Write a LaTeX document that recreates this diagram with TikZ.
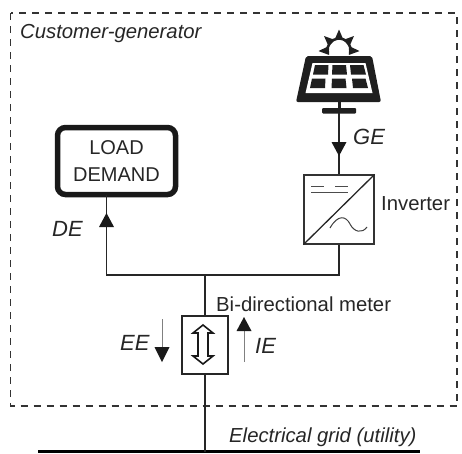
\documentclass[tikz,border=0pt]{standalone}
\usepackage{fontspec}
\setmainfont{Liberation Sans}
\usetikzlibrary{calc}
\tikzset{
  wire/.style={line width=1.3pt,draw=black!85},
  thinflow/.style={line width=0.8pt,draw=black!50},
  lbl/.style={inner sep=0pt,font=\fontsize{20.3}{24}\selectfont,text=black!85},
  ilbl/.style={inner sep=0pt,font=\fontsize{20.3}{24}\selectfont\itshape,text=black!85},
  flowlbl/.style={inner sep=0pt,font=\fontsize{22}{24}\selectfont\itshape,text=black!85},
  tip/.style={fill=black!90,draw=none},
}
\begin{document}
\begin{tikzpicture}[x=1pt,y=-1pt,>=stealth]
\useasboundingbox (0,0) rectangle (462,453);
% boundary
\draw[line width=1.2pt,draw=black!80,dash pattern=on 7pt off 6pt] (10.5,13) rectangle (457,406);
\node (cust) at (20,34) [ilbl,anchor=west] {Customer-generator};
% load
\node (load) at (116.5,161) [draw=black!90,line width=5.5pt,rounded corners=8pt,minimum width=118pt,minimum height=67pt,align=center,inner sep=0pt,font=\fontsize{20}{27}\selectfont,text=black!85] {LOAD\\DEMAND};
\coordinate (loadin) at (106.5,195);
\coordinate (bl) at (106.5,275);
\coordinate (bm) at (205,275);
\coordinate (br) at (339,275);
% inverter
\node (inv) at (339,209.5) [draw=black!80,line width=1.2pt,minimum width=70pt,minimum height=69pt,inner sep=0pt] {};
\draw[line width=1.3pt,draw=black!85] (inv.south west) -- (inv.north east);
\draw[line width=1pt,draw=black!70] (311,186) -- (324,186) (335,186) -- (348,186) (311,192) -- (348,192);
\draw[line width=1pt,draw=black!75] (330,228) .. controls (338,214) and (346,216) .. (350,224) .. controls (354,232) and (362,234) .. (367,227);
\node (invl) at (381,204) [lbl,anchor=west] {Inverter};
% meter
\node (meter) at (205,345) [draw=black!85,line width=1.3pt,minimum width=46pt,minimum height=58pt,inner sep=0pt] {};
\draw[line width=1.6pt,draw=black!90,fill=white] (203,325) -- (213,333) -- (208,333) -- (208,356) -- (213,356) -- (203,364) -- (193,356) -- (198,356) -- (198,333) -- (193,333) -- cycle;
\node (meterl) at (216,304) [lbl,anchor=west] {Bi-directional meter};
% grid
\coordinate (gl) at (38,451.5);
\coordinate (gr) at (420,451.5);
\coordinate (gm) at (205,451.5);
\draw[line width=3.5pt,draw=black] (gl) -- (gr);
\node (gridl) at (229,437) [ilbl,anchor=west] {Electrical grid (utility)};
% solar panel
\fill[black!88,rounded corners=2pt] (306,56) -- (372,56) -- (381,102) -- (296,102) -- cycle;
\fill[white] (312.5,63) -- (365.5,63) -- (372.5,93) -- (305.5,93) -- cycle;
\foreach \cx/\cy in {0/0,1/0,2/0,0/1,1/1,2/1}{
  \pgfmathsetmacro{\ya}{65+\cy*13.5}
  \pgfmathsetmacro{\yb}{\ya+9.5}
  \pgfmathsetmacro{\xa}{315-\cy*3+\cx*17.5+\cy*\cx*2.5}
  \pgfmathsetmacro{\xb}{\xa+13.5}
  \fill[black!88] (\xa,\ya) -- (\xb,\ya) -- (\xb+1.5*\cx-0.5,\yb) -- (\xa+1.5*\cx-2,\yb) -- cycle;
}
\fill[black!88] (337.5,102) rectangle (340.5,108);
\fill[black!88,rounded corners=1pt] (322,108) rectangle (356,113.5);
\coordinate (panel) at (339,113);
% sun
\coordinate (suncen) at (339,50);
\draw[line width=2.6pt,draw=black!88] (327.6,51.6) arc (172:368:11.5);
\foreach \a in {-3,43,90,137,183}{
  \fill[black!88] ($(suncen)+(-\a-24:11)$) -- ($(suncen)+(-\a:20.5)$) -- ($(suncen)+(-\a+24:11)$) -- cycle;
}
% wires
\draw[wire] (loadin) -- (bl) -- (br) -- (inv.south);
\draw[wire] (bm) -- (meter.north);
\draw[wire] (meter.south) -- (gm);
\draw[wire] (panel) -- (inv.north);
% flows
\fill[tip] (106.5,213) -- (114,227) -- (99,227) -- cycle;
\fill[tip] (339,156) -- (331.5,142) -- (346.5,142) -- cycle;
\coordinate (eea) at (162,319);
\coordinate (eeb) at (162,348);
\draw[thinflow] (eea) -- (eeb);
\fill[tip] (162,362) -- (154.5,347) -- (169.5,347) -- cycle;
\coordinate (iea) at (244,362);
\coordinate (ieb) at (244,330);
\draw[thinflow] (iea) -- (ieb);
\fill[tip] (244,317) -- (251.5,331) -- (236.5,331) -- cycle;
% labels
\node (de) at (52,229) [flowlbl,anchor=west] {DE};
\node (ge) at (353,137) [flowlbl,anchor=west] {GE};
\node (ee) at (120,343) [flowlbl,anchor=west] {EE};
\node (ie) at (255,346) [flowlbl,anchor=west] {IE};
\end{tikzpicture}
\end{document}
